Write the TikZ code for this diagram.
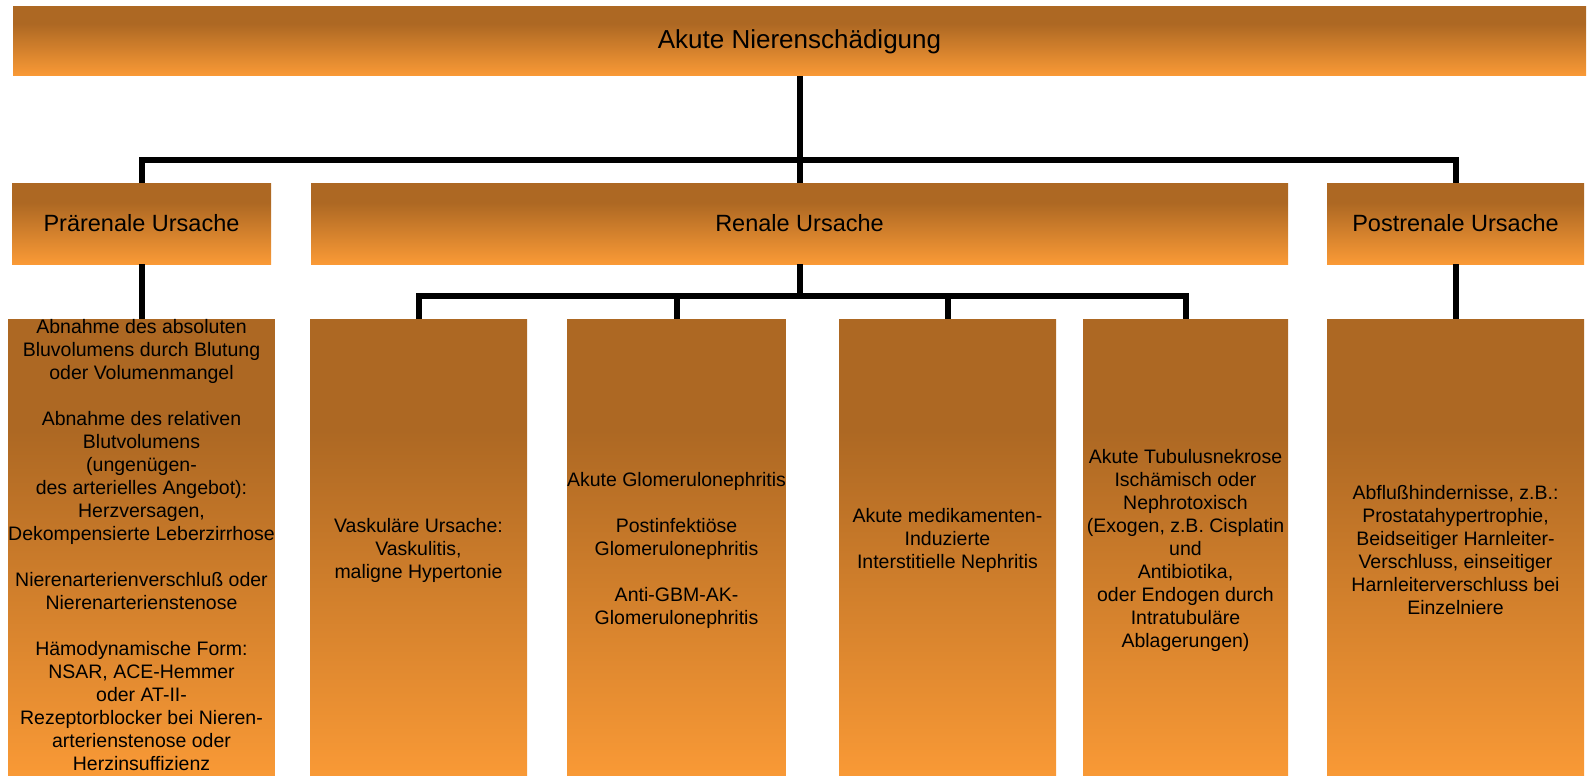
\documentclass[tikz,border=0pt]{standalone}
\usepackage{fontspec}
\setmainfont{Liberation Sans}
\definecolor{bT}{HTML}{AD6823}
\definecolor{oB}{HTML}{FA9A36}
\pgfdeclareverticalshading{boxshade}{100bp}{color(0bp)=(oB); color(25bp)=(oB); color(63bp)=(bT); color(100bp)=(bT)}
\tikzset{
  box/.style={shading=boxshade, inner sep=0pt, align=center, font=\fontsize{19.5pt}{23pt}\selectfont},
  head/.style={shading=boxshade, inner sep=0pt, align=center, font=\fontsize{23.5pt}{28pt}\selectfont},
  conn/.style={line width=6pt, black, line join=miter}
}
\begin{document}
\begin{tikzpicture}[x=1pt,y=-1pt]
\useasboundingbox (0,0) rectangle (1588,776);
\clip (0,0) rectangle (1588,776);
% top
\node[head, font=\fontsize{26pt}{30pt}\selectfont, minimum width=1573pt, minimum height=69pt] (top) at (799.5,41.5) {Akute Nierenschädigung};
% level 2
\node[head, minimum width=259pt, minimum height=81pt] (pre) at (141.5,223.5) {Prärenale Ursache};
\node[head, minimum width=977pt, minimum height=81pt] (ren) at (799.5,223.5) {Renale Ursache};
\node[head, minimum width=257pt, minimum height=81pt] (post) at (1455.5,223.5) {Postrenale Ursache};
% level 3
\node[box, minimum width=259pt, minimum height=462pt] (preL) at (141.5,550) {Abnahme des absoluten\\Bluvolumens durch Blutung\\oder Volumenmangel\\[23pt]Abnahme des relativen\\Blutvolumens\\(ungenügen-\\des arterielles Angebot):\\Herzversagen,\\Dekompensierte Leberzirrhose\\[23pt]Nierenarterienverschluß oder\\Nierenarterienstenose\\[23pt]Hämodynamische Form:\\NSAR, ACE-Hemmer\\oder AT-II-\\Rezeptorblocker bei Nieren-\\arterienstenose oder\\Herzinsuffizienz\\[-13pt]\mbox{}};
\node[box, minimum width=217pt, minimum height=462pt] (vas) at (418.5,550) {Vaskuläre Ursache:\\Vaskulitis,\\maligne Hypertonie};
\node[box, minimum width=217pt, minimum height=462pt] (glo) at (676.5,550) {Akute Glomerulonephritis\\[23pt]Postinfektiöse\\Glomerulonephritis\\[23pt]Anti-GBM-AK-\\Glomerulonephritis};
\node[box, minimum width=217pt, minimum height=462pt] (med) at (947.5,550) {Akute medikamenten-\\Induzierte\\Interstitielle Nephritis\\\mbox{}};
\node[box, minimum width=205pt, minimum height=462pt] (tub) at (1185.5,550) {Akute Tubulusnekrose\\Ischämisch oder\\Nephrotoxisch\\(Exogen, z.B. Cisplatin\\und\\Antibiotika,\\oder Endogen durch\\Intratubuläre\\Ablagerungen)};
\node[box, minimum width=257pt, minimum height=462pt] (postL) at (1455.5,550) {Abflußhindernisse, z.B.:\\Prostatahypertrophie,\\Beidseitiger Harnleiter-\\Verschluss, einseitiger\\Harnleiterverschluss bei\\Einzelniere};
% junctions
\coordinate (j1) at (799.5,160);
\coordinate (j2) at (799.5,296);
% connectors
\draw[conn] (top.south) -- (ren.north);
\draw[conn] (pre.north) |- (j1) -| (post.north);
\draw[conn] (pre.south) -- (preL.north);
\draw[conn] (post.south) -- (postL.north);
\draw[conn] (ren.south) -- (j2);
\draw[conn] (vas.north) |- (j2) -| (tub.north);
\draw[conn] (glo.north) -- (glo.north |- j2);
\draw[conn] (med.north) -- (med.north |- j2);
\end{tikzpicture}
\end{document}
